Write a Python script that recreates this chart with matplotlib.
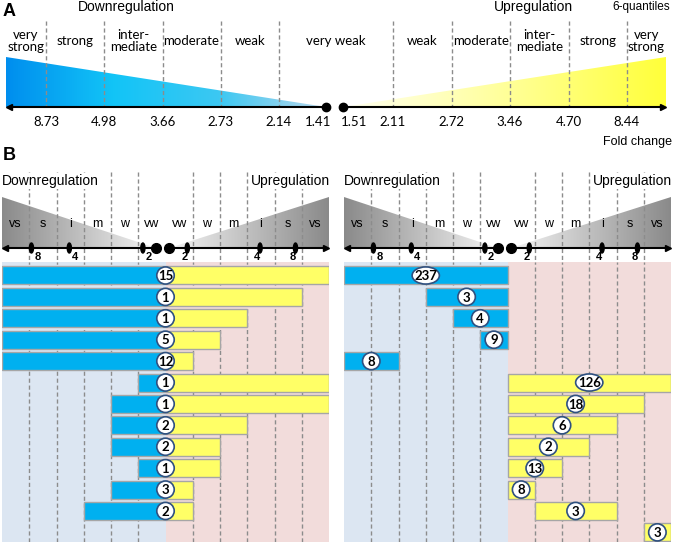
import numpy as np
import matplotlib
matplotlib.use('Agg')
import matplotlib.pyplot as plt
from matplotlib.patches import Polygon, Ellipse
from matplotlib.colors import LinearSegmentedColormap

# ---- panel A: 6-quantile thresholds of fold change ----
down_cuts = ['8.73', '4.98', '3.66', '2.73', '2.14']
up_cuts = ['2.11', '2.72', '3.46', '4.70', '8.44']
down_min = '1.41'
up_min = '1.51'
down_names = ['very\nstrong', 'strong', 'inter-\nmediate', 'moderate', 'weak']
up_names = ['weak', 'moderate', 'inter-\nmediate', 'strong', 'very\nstrong']
mid_name = 'very weak'

# ---- panel B: category spans (0..12: vs s i m w vw | vw w m i s vs) ----
short_down = ['vs', 's', 'i', 'm', 'w', 'vw']
short_up = ['vw', 'w', 'm', 'i', 's', 'vs']
fold_down = ['8', '4', '2']
fold_up = ['2', '4', '8']

left_start = [0, 0, 0, 0, 0, 5, 4, 4, 4, 5, 4, 3]
left_end = [12, 11, 9, 8, 7, 12, 12, 9, 8, 8, 7, 7]
left_counts = [15, 1, 1, 5, 12, 1, 1, 2, 2, 1, 3, 2]

right_start = [0, 3, 4, 5, 0, 6, 6, 6, 6, 6, 6, 7, 11]
right_end = [6, 6, 6, 6, 2, 12, 11, 10, 9, 8, 7, 10, 12]
right_counts = [237, 3, 4, 9, 8, 126, 18, 6, 2, 13, 8, 3, 3]

W, H = 675, 544
BLUE = '#00b0f0'
YELLOW = '#ffff66'
DASH = '#8c8c8c'
CAL = 'Lato'
ARL = 'Liberation Sans'

fig = plt.figure(figsize=(W / 100, H / 100), dpi=100)
ax = fig.add_axes([0, 0, 1, 1])
ax.set_axis_off()


def grad_tri(a, pts, colors, x0, x1, y0, y1):
    poly = Polygon(pts, closed=True, fc='none', ec='none')
    a.add_patch(poly)
    cmap = LinearSegmentedColormap.from_list('g', colors)
    g = np.linspace(0, 1, 256).reshape(1, -1)
    im = a.imshow(g, cmap=cmap, extent=(x0, x1, y1, y0), aspect='auto',
                  zorder=1, interpolation='bilinear')
    im.set_clip_path(poly)


# ================= panel A =================
ax_y = 107
down_x = 46 + 58.25 * np.arange(5)
up_x = 393 + 58.5 * np.arange(5)
grad_tri(ax, [(6, 57), (6, ax_y), (326, ax_y)],
         ['#008eee', '#12c4f7', '#3cc8f2', '#b8d7ec'], 6, 326, 57, ax_y)
grad_tri(ax, [(343, ax_y), (666, ax_y), (666, 57)],
         ['#fffff2', '#ffff9a', '#ffff3a'], 343, 666, 57, ax_y)
for x in list(down_x) + list(up_x):
    ax.plot([x, x], [21, ax_y], color=DASH, lw=1, ls=(0, (3, 2)), zorder=2)

ax.plot([9, 326], [ax_y, ax_y], color='k', lw=1.5, zorder=3)
ax.plot([343, 663], [ax_y, ax_y], color='k', lw=1.5, zorder=3)
ax.plot(9, ax_y, marker='<', color='k', ms=5, zorder=3)
ax.plot(663, ax_y, marker='>', color='k', ms=5, zorder=3)
ax.plot([326, 343], [ax_y, ax_y], 'o', color='k', ms=6, zorder=4)

down_b = [6] + list(down_x)
for i, nm in enumerate(down_names):
    ax.text((down_b[i] + down_b[i + 1]) / 2, 41, nm, ha='center', va='center',
            fontsize=9.5, family=CAL, linespacing=1.0)
    ax.text(down_x[i], 122, down_cuts[i], ha='center', va='center',
            fontsize=9.5, family=CAL)
up_b = list(up_x) + [666]
for i, nm in enumerate(up_names):
    ax.text((up_b[i] + up_b[i + 1]) / 2, 41, nm, ha='center', va='center',
            fontsize=9.5, family=CAL, linespacing=1.0)
    ax.text(up_x[i], 122, up_cuts[i], ha='center', va='center',
            fontsize=9.5, family=CAL)
ax.text((down_x[-1] + up_x[0]) / 2, 41, mid_name, ha='center', va='center',
        fontsize=9.5, family=CAL)
ax.text(318, 122, down_min, ha='center', va='center', fontsize=9.5, family=CAL)
ax.text(354, 122, up_min, ha='center', va='center', fontsize=9.5, family=CAL)

ax.text(3, 11, 'A', fontsize=13, weight='bold', family=ARL, va='center')
ax.text(126, 7, 'Downregulation', fontsize=10, family=ARL, ha='center', va='center')
ax.text(533, 7, 'Upregulation', fontsize=10, family=ARL, ha='center', va='center')
ax.text(670, 7, '6-quantiles', fontsize=8.5, family=ARL, ha='right', va='center')
ax.text(672, 142, 'Fold change', fontsize=9, family=ARL, ha='right', va='center')

# ================= panel B =================
ax.text(3, 155, 'B', fontsize=13, weight='bold', family=ARL, va='center')
dash_pos = [1, 2, 3, 4, 5, 7, 8, 9, 10, 11]
tick_down = [1.08, 2.47, 5.17]
tick_up = [6.8, 9.47, 10.77]
dot_down, dot_up = 5.65, 6.13
wbox = dict(fc='white', ec='none', pad=0.5)


def panel(x0, x1, starts, ends, counts, left_badge):
    # indicator strip (x in category units, y in pixels)
    ia = fig.add_axes([x0 / W, 1 - 262 / H, (x1 - x0) / W, (262 - 170) / H])
    ia.set_axis_off()
    ia.text(0, 181, 'Downregulation', fontsize=10, family=ARL, ha='left',
            va='center', bbox=wbox, zorder=6)
    ia.text(12.03, 181, 'Upregulation', fontsize=10, family=ARL, ha='right',
            va='center', bbox=wbox, zorder=6)
    grad_tri(ia, [(0, 197), (0, 248), (dot_down, 248)],
             ['#8a8a8a', '#f4f4f4'], 0, dot_down, 197, 248)
    grad_tri(ia, [(dot_up, 248), (12, 248), (12, 197)],
             ['#f4f4f4', '#8a8a8a'], dot_up, 12, 197, 248)
    for x in dash_pos:
        ia.plot([x, x], [172, 262], color=DASH, lw=1, ls=(0, (3, 2)), zorder=2)
    for i in range(6):
        ia.text(i + 0.5, 224, short_down[i], ha='center', va='center',
                fontsize=9, family=ARL, zorder=3)
        ia.text(i + 6.5, 224, short_up[i], ha='center', va='center',
                fontsize=9, family=ARL, zorder=3)
    ia.plot([0.12, dot_down], [248, 248], color='k', lw=1.5, zorder=3)
    ia.plot([dot_up, 11.88], [248, 248], color='k', lw=1.5, zorder=3)
    ia.plot(0.12, 248, marker='<', color='k', ms=5, zorder=3)
    ia.plot(11.88, 248, marker='>', color='k', ms=5, zorder=3)
    ia.plot([dot_down, dot_up], [248, 248], 'o', color='k', ms=7, zorder=4)
    for t, lab in zip(tick_down, fold_down):
        ia.add_patch(Ellipse((t, 248), 0.15, 10, color='k', zorder=4))
        ia.text(t + 0.22, 257, lab, ha='center', va='center', fontsize=8,
                weight='bold', family=ARL, zorder=4)
    for t, lab in zip(tick_up, fold_up):
        ia.add_patch(Ellipse((t, 248), 0.15, 10, color='k', zorder=4))
        ia.text(t - 0.1, 257, lab, ha='center', va='center', fontsize=8,
                weight='bold', family=ARL, zorder=4)
    ia.set_xlim(0, 12)
    ia.set_ylim(262, 170)

    # bar area (x in category units, y in rows)
    ba = fig.add_axes([x0 / W, 1 - 542 / H, (x1 - x0) / W, (542 - 262) / H])
    ba.set_axis_off()
    ba.axvspan(0, 6, color='#dce6f2', zorder=0, lw=0)
    ba.axvspan(6, 12, color='#f2dcdb', zorder=0, lw=0)
    for x in dash_pos:
        ba.axvline(x, color=DASH, lw=1, ls=(0, (3, 2)), zorder=1)
    rows = np.arange(len(counts))
    s = np.array(starts, dtype=float)
    e = np.array(ends, dtype=float)
    has_b = s < 6
    has_y = e > 6
    ba.barh(rows[has_b], (np.minimum(e, 6) - s)[has_b], left=s[has_b], height=0.84,
            color=BLUE, edgecolor='#a6a6a6', lw=1, zorder=2)
    ys = np.maximum(s, 6)
    ba.barh(rows[has_y], (e - ys)[has_y], left=ys[has_y], height=0.84,
            color=YELLOW, edgecolor='#a6a6a6', lw=1, zorder=2)
    for r, (a, b, c) in enumerate(zip(s, e, counts)):
        cx = 6 if (left_badge or (a < 6 < b)) else (a + b) / 2
        w = 1.0 if c >= 100 else 0.64
        ba.add_patch(Ellipse((cx, r), w, 0.8, fc='white', ec='#2f5080',
                             lw=1.2, zorder=4))
        ba.text(cx, r + 0.03, str(c), ha='center', va='center', fontsize=9.5,
                weight='bold', family=CAL, zorder=5)
    ba.set_xlim(0, 12)
    ba.set_ylim(12.45, -0.63)


panel(2, 329, left_start, left_end, left_counts, True)
panel(344, 671, right_start, right_end, right_counts, False)

ax.set_xlim(0, W)
ax.set_ylim(H, 0)
fig.savefig('out.png', dpi=100)
